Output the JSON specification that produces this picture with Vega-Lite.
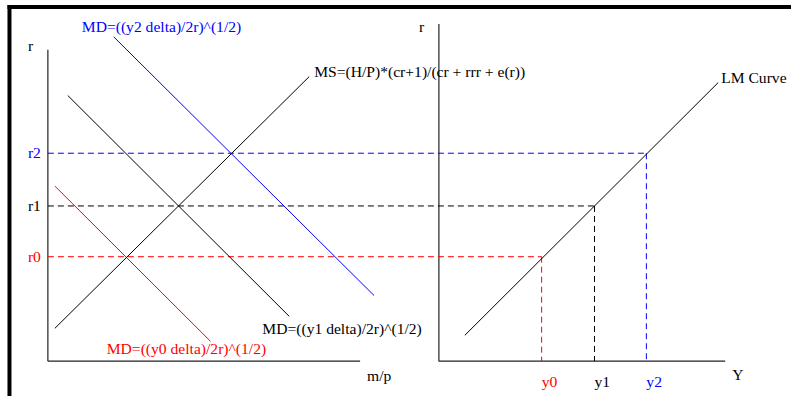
{
  "$schema": "https://vega.github.io/schema/vega-lite/v6.json",
  "width": 793,
  "height": 398,
  "autosize": {"type": "fit", "contains": "padding"},
  "padding": 0,
  "background": "#ffffff",
  "config": {"view": {"stroke": null}},
  "datasets": {
    "frame": [
      {"x": -40.5, "y": 356, "x2": 745, "y2": 356},
      {"x": -38.5, "y": 358, "x2": -38.5, "y2": -35}
    ],
    "axes": [
      {"x": 0, "y": 0, "x2": 0, "y2": 313},
      {"x": 0, "y": 0, "x2": 313, "y2": 0},
      {"x": 392, "y": 0, "x2": 392, "y2": 339},
      {"x": 392, "y": 0, "x2": 679, "y2": 0}
    ],
    "curves": [
      {"name": "MD y2", "group": "y2", "x": 66, "y": 326, "x2": 327, "y2": 66},
      {"name": "MD y1", "group": "y1", "x": 20, "y": 267, "x2": 242, "y2": 45},
      {"name": "MD y0", "group": "y0", "x": 7, "y": 176, "x2": 163, "y2": 20},
      {"name": "MS", "group": "neutral", "x": 7, "y": 33, "x2": 262, "y2": 286},
      {"name": "LM", "group": "neutral", "x": 418, "y": 26, "x2": 672, "y2": 280}
    ],
    "guides": [
      {"group": "y0", "x": 0, "y": 105, "x2": 495, "y2": 105},
      {"group": "y1", "x": 0, "y": 156, "x2": 548, "y2": 156},
      {"group": "y2", "x": 0, "y": 209, "x2": 600, "y2": 209},
      {"group": "y0", "x": 495, "y": 105, "x2": 495, "y2": 0},
      {"group": "y1", "x": 548, "y": 156, "x2": 548, "y2": 0},
      {"group": "y2", "x": 600, "y": 209, "x2": 600, "y2": 0}
    ],
    "labels": [
      {"text": "MD=((y2 delta)/2r)^(1/2)", "group": "y2", "x": 34, "y": 336},
      {"text": "MS=(H/P)*(cr+1)/(cr + rrr + e(r))", "group": "neutral", "x": 267, "y": 291},
      {"text": "LM Curve", "group": "neutral", "x": 675, "y": 285},
      {"text": "MD=((y1 delta)/2r)^(1/2)", "group": "y1", "x": 215, "y": 32},
      {"text": "MD=((y0 delta)/2r)^(1/2)", "group": "y0", "x": 59, "y": 12},
      {"text": "m/p", "group": "neutral", "x": 320, "y": -15},
      {"text": "Y", "group": "neutral", "x": 686, "y": -14},
      {"text": "r", "group": "neutral", "x": -20, "y": 317},
      {"text": "r", "group": "neutral", "x": 372, "y": 336},
      {"text": "r2", "group": "y2", "x": -20, "y": 209},
      {"text": "r1", "group": "y1", "x": -20, "y": 156},
      {"text": "r0", "group": "y0", "x": -20, "y": 105},
      {"text": "y0", "group": "y0", "x": 495, "y": -21},
      {"text": "y1", "group": "y1", "x": 548, "y": -21},
      {"text": "y2", "group": "y2", "x": 600, "y": -21}
    ]
  },
  "layer": [
    {
      "data": {"name": "frame"},
      "mark": {"type": "rule", "color": "#000000", "strokeWidth": 4, "strokeCap": "butt"},
      "encoding": {
        "x": {"field": "x", "type": "quantitative", "axis": null, "scale": {"domain": [-48, 745], "nice": false, "zero": false}},
        "y": {"field": "y", "type": "quantitative", "axis": null, "scale": {"domain": [-35, 363], "nice": false, "zero": false}},
        "x2": {"field": "x2"},
        "y2": {"field": "y2"}
      }
    },
    {
      "data": {"name": "axes"},
      "mark": {"type": "rule", "color": "#222222", "strokeWidth": 1.2},
      "encoding": {
        "x": {"field": "x", "type": "quantitative", "axis": null, "scale": {"domain": [-48, 745], "nice": false, "zero": false}},
        "y": {"field": "y", "type": "quantitative", "axis": null, "scale": {"domain": [-35, 363], "nice": false, "zero": false}},
        "x2": {"field": "x2"},
        "y2": {"field": "y2"}
      }
    },
    {
      "data": {"name": "guides"},
      "mark": {"type": "rule", "strokeWidth": 1, "strokeDash": [6, 4]},
      "encoding": {
        "x": {"field": "x", "type": "quantitative", "axis": null, "scale": {"domain": [-48, 745], "nice": false, "zero": false}},
        "y": {"field": "y", "type": "quantitative", "axis": null, "scale": {"domain": [-35, 363], "nice": false, "zero": false}},
        "x2": {"field": "x2"},
        "y2": {"field": "y2"},
        "color": {"field": "group", "type": "nominal", "legend": null,
          "scale": {"domain": ["y0", "y1", "y2", "neutral"], "range": ["#ff0000", "#000000", "#0000ff", "#000000"]}}
      }
    },
    {
      "data": {"name": "curves"},
      "mark": {"type": "rule", "strokeWidth": 1},
      "encoding": {
        "x": {"field": "x", "type": "quantitative", "axis": null, "scale": {"domain": [-48, 745], "nice": false, "zero": false}},
        "y": {"field": "y", "type": "quantitative", "axis": null, "scale": {"domain": [-35, 363], "nice": false, "zero": false}},
        "x2": {"field": "x2"},
        "y2": {"field": "y2"},
        "color": {"field": "group", "type": "nominal", "legend": null,
          "scale": {"domain": ["y0", "y1", "y2", "neutral"], "range": ["#ff0000", "#000000", "#0000ff", "#000000"]}}
      }
    },
    {
      "data": {"name": "labels"},
      "mark": {"type": "text", "align": "left", "baseline": "middle", "font": "Liberation Serif", "fontSize": 15.6},
      "encoding": {
        "x": {"field": "x", "type": "quantitative", "axis": null, "scale": {"domain": [-48, 745], "nice": false, "zero": false}},
        "y": {"field": "y", "type": "quantitative", "axis": null, "scale": {"domain": [-35, 363], "nice": false, "zero": false}},
        "text": {"field": "text"},
        "color": {"field": "group", "type": "nominal", "legend": null,
          "scale": {"domain": ["y0", "y1", "y2", "neutral"], "range": ["#ff0000", "#000000", "#0000ff", "#000000"]}}
      }
    }
  ]
}
